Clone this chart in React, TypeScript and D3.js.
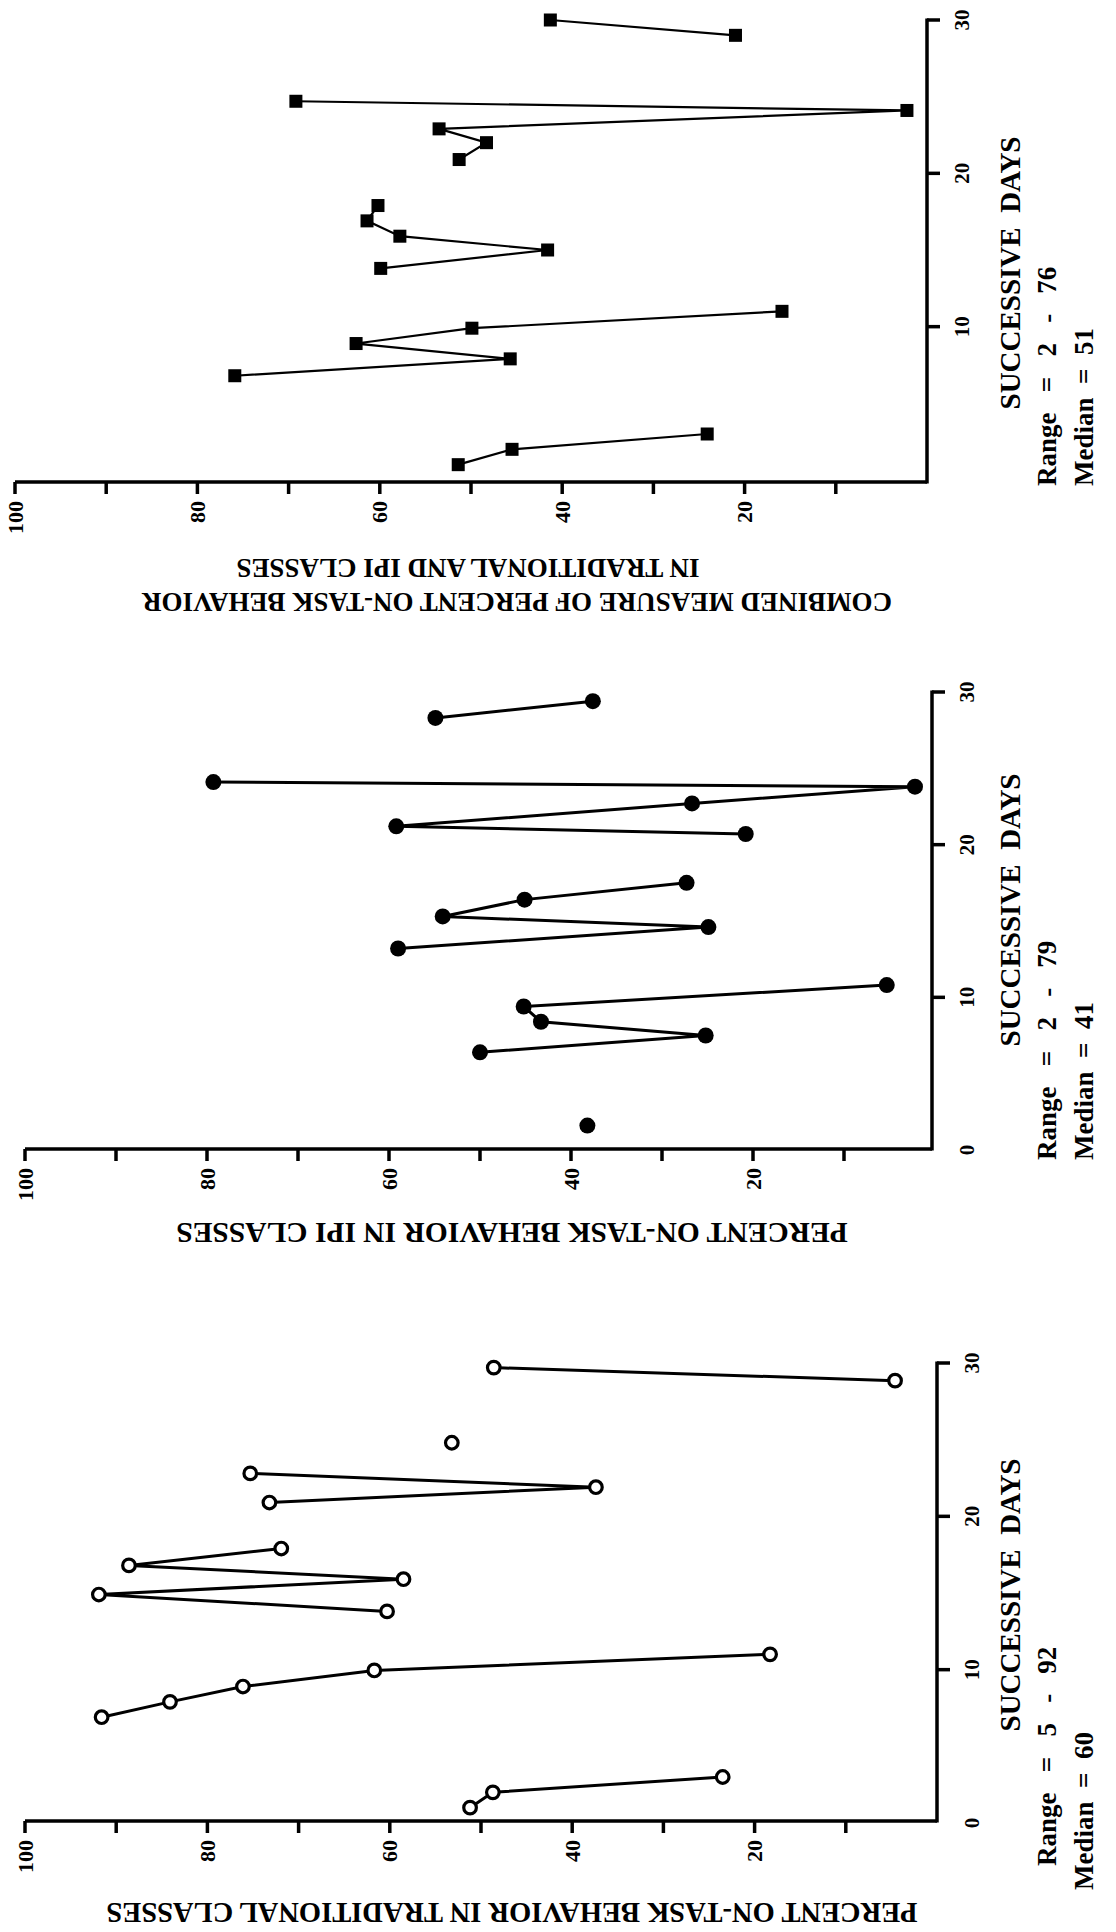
import React from 'react';
import * as d3 from 'd3';

// ---- data ----
const valueTicks = [100, 90, 80, 70, 60, 50, 40, 30, 20, 10];
const valueLabels = [100, 80, 60, 40, 20];
const dayTicks = [10, 20, 30];

// Combined measure (filled squares)
const combinedDays = [[1, 2, 3], [6.8, 7.9, 8.9, 9.9, 11], [13.8, 15, 15.9, 16.9, 17.9], [20.9, 22, 22.9, 24.1, 24.7], [29, 30]];
const combinedValues = [[51.4, 45.5, 24.1], [75.9, 45.7, 62.6, 49.9, 15.9], [59.9, 41.6, 57.8, 61.4, 60.2], [51.3, 48.3, 53.5, 2.2, 69.2], [21, 41.3]];

// IPI classes (filled circles)
const ipiDays = [[1.6], [6.4, 7.5, 8.4, 9.4, 10.8], [13.2, 14.6, 15.3, 16.4, 17.5], [20.7, 21.2, 22.7, 23.8, 24.1], [28.3, 29.4]];
const ipiValues = [[38.2], [50, 25.2, 43.3, 45.2, 5.3], [59, 24.9, 54.1, 45.1, 27.3], [20.8, 59.2, 26.7, 2.2, 79.3], [54.9, 37.6]];

// Traditional classes (open circles)
const tradDays = [[1, 2, 3], [6.9, 7.9, 8.9, 9.95, 11], [13.8, 14.9, 15.9, 16.8, 17.9], [20.9, 21.9, 22.8], [24.8], [28.85, 29.7]];
const tradValues = [[51.2, 48.7, 23.5], [91.6, 84.1, 76.1, 61.7, 18.3], [60.3, 91.9, 58.5, 88.6, 71.9], [73.2, 37.4, 75.3], [53.2], [4.6, 48.6]];

const FONT = '"Liberation Serif", "DejaVu Serif", serif';

type Layout = {
  x100: number; x0: number; y0: number; y30: number; axisY: number; axisX: number;
  titleLines: string[]; titleX: number[]; titleY: number[]; titleSize: number;
  daysTitleY: number; rangeText: string; medianText: string; statStartY: number; medianStartY: number;
  marker: 'square' | 'dot' | 'ring'; lineW: number; showZero: boolean;
};

function Panel({ days, values, L }: { days: number[][]; values: number[][]; L: Layout }) {
  const x = d3.scaleLinear().domain([0, 100]).range([L.x0, L.x100]);
  const y = d3.scaleLinear().domain([0, 30]).range([L.y0, L.y30]);
  const line = d3.line<[number, number]>().x(d => x(d[1])).y(d => y(d[0]));
  const segs = days.map((ds, i) => ds.map((d, j) => [d, values[i][j]] as [number, number]));
  return (
    <g>
      {/* value axis */}
      <line x1={x(100)} x2={L.axisX} y1={L.axisY} y2={L.axisY} stroke="#000" strokeWidth={3.5} />
      {valueTicks.map(v => (
        <line key={'vt' + v} x1={x(v)} x2={x(v)} y1={L.axisY} y2={L.axisY + 12} stroke="#000" strokeWidth={3.5} />
      ))}
      {valueLabels.map(v => (
        <text key={'vl' + v} transform={`translate(${x(v)},${L.axisY + 19}) rotate(-90)`} textAnchor="end"
          dominantBaseline="central" fontFamily={FONT} fontWeight="bold" fontSize={22}>{v}</text>
      ))}
      {/* days axis */}
      <line x1={L.axisX} x2={L.axisX} y1={L.axisY + 1.5} y2={y(30) - 1.5} stroke="#000" strokeWidth={3.5} />
      {dayTicks.map(d => (
        <line key={'dt' + d} x1={L.axisX} x2={L.axisX + 13} y1={y(d)} y2={y(d)} stroke="#000" strokeWidth={3.5} />
      ))}
      {(L.showZero ? [0, ...dayTicks] : dayTicks).map(d => (
        <text key={'dl' + d} transform={`translate(${L.axisX + 35},${y(d)}) rotate(-90)`} textAnchor="middle"
          dominantBaseline="central" fontFamily={FONT} fontWeight="bold" fontSize={21}>{d}</text>
      ))}
      {/* data */}
      {segs.map((s, i) => s.length > 1 ? (
        <path key={'s' + i} d={line(s) || ''} fill="none" stroke="#000" strokeWidth={L.lineW} strokeLinejoin="miter" />
      ) : null)}
      {segs.flat().map((p, i) => {
        const cx = x(p[1]); const cy = y(p[0]);
        if (L.marker === 'square') return <rect key={'m' + i} x={cx - 6.5} y={cy - 6.5} width={13} height={13} fill="#000" />;
        if (L.marker === 'dot') return <circle key={'m' + i} cx={cx} cy={cy} r={8} fill="#000" />;
        return <circle key={'m' + i} cx={cx} cy={cy} r={6.3} fill="#fff" stroke="#000" strokeWidth={3.2} />;
      })}
      {/* titles */}
      {L.titleLines.map((t, i) => (
        <text key={'t' + i} transform={`translate(${L.titleX[i]},${L.titleY[i]}) rotate(180)`} textAnchor="middle"
          dominantBaseline="central" fontFamily={FONT} fontWeight="bold" fontSize={L.titleSize}>{t}</text>
      ))}
      <text transform={`translate(1010,${L.daysTitleY}) rotate(-90)`} textAnchor="middle" dominantBaseline="central"
        fontFamily={FONT} fontWeight="bold" fontSize={29} xmlSpace="preserve" style={{ whiteSpace: 'pre' }}>{'SUCCESSIVE  DAYS'}</text>
      <text transform={`translate(1047,${L.statStartY}) rotate(-90)`} textAnchor="start" dominantBaseline="central"
        fontFamily={FONT} fontWeight="bold" fontSize={27} xmlSpace="preserve" style={{ whiteSpace: 'pre' }}>{L.rangeText}</text>
      <text transform={`translate(1084,${L.medianStartY}) rotate(-90)`} textAnchor="start" dominantBaseline="central"
        fontFamily={FONT} fontWeight="bold" fontSize={27} xmlSpace="preserve" style={{ whiteSpace: 'pre' }}>{L.medianText}</text>
    </g>
  );
}

const topL: Layout = {
  x100: 15, x0: 927, y0: 480, y30: 20, axisY: 482, axisX: 927,
  titleLines: ['COMBINED MEASURE OF PERCENT ON-TASK BEHAVIOR', 'IN TRADITIONAL AND IPI CLASSES'],
  titleX: [517, 468], titleY: [602, 568], titleSize: 27,
  daysTitleY: 273, rangeText: 'Range   =   2   -   76', medianText: 'Median  =  51', statStartY: 486, medianStartY: 486,
  marker: 'square', lineW: 2.2, showZero: false,
};
const midL: Layout = {
  x100: 25, x0: 935, y0: 1150, y30: 692, axisY: 1149, axisX: 932,
  titleLines: ['PERCENT ON-TASK BEHAVIOR IN IPI CLASSES'], titleX: [512], titleY: [1233], titleSize: 29.5,
  daysTitleY: 910, rangeText: 'Range   =   2   -   79', medianText: 'Median  =  41', statStartY: 1160, medianStartY: 1160,
  marker: 'dot', lineW: 3, showZero: true,
};
const botL: Layout = {
  x100: 25, x0: 937, y0: 1823, y30: 1363, axisY: 1821, axisX: 937,
  titleLines: ['PERCENT ON-TASK BEHAVIOR IN TRADITIONAL CLASSES'], titleX: [512], titleY: [1912], titleSize: 28.5,
  daysTitleY: 1595, rangeText: 'Range   =   5   -   92', medianText: 'Median  =  60', statStartY: 1866, medianStartY: 1890,
  marker: 'ring', lineW: 3, showZero: true,
};

export default function App() {
  return (
    <svg width={1116} height={1932} viewBox="0 0 1116 1932"
      style={{ position: 'absolute', left: 0, top: 0, background: '#fff' }}>
      <rect width={1116} height={1932} fill="#fff" />
      <Panel days={combinedDays} values={combinedValues} L={topL} />
      <Panel days={ipiDays} values={ipiValues} L={midL} />
      <Panel days={tradDays} values={tradValues} L={botL} />
    </svg>
  );
}
